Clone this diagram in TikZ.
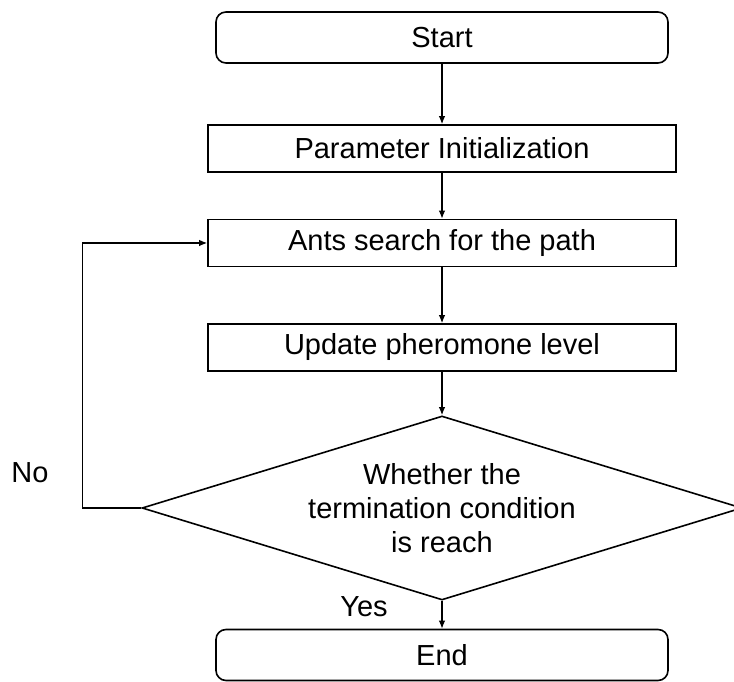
\documentclass[tikz,border=0pt]{standalone}
\usepackage{fontspec}
\setmainfont{Liberation Sans}
\usepackage{tikz}
\usetikzlibrary{arrows.meta}
\usetikzlibrary{shapes.geometric}

\begin{document}
\begin{tikzpicture}[x=1pt, y=1pt, >={Latex[length=8pt,width=6.5pt]}, line width=1.3pt,
  every node/.style={font=\fontsize{29}{34}\selectfont},
  terminal/.style={draw, line width=1.6pt, rounded corners=10pt, minimum width=452pt, minimum height=51pt},
  process/.style={draw, line width=1.6pt, minimum width=468pt, minimum height=47pt},
  decision/.style={draw, line width=1.6pt, diamond, aspect=3.26, inner sep=0pt, minimum width=600pt, minimum height=184pt, align=center}]
  % fix the margins
  \useasboundingbox (0,0) rectangle (734,682);
  \clip (0,0) rectangle (734,682);
  % draw the boxes
  \node[terminal] (start) at (442,644.5) {Start};
  \node[process] (param) at (442,533.5) {Parameter Initialization};
  \node[process] (ants) at (442,439) {Ants search for the path};
  \node[process] (update) at (442,334.5) {Update pheromone level};
  \node[decision] (cond) at (442,174) {Whether the\\termination condition\\is reach};
  \node[terminal] (finish) at (442,27) {End};
  % draw the arrows
  \draw[->] (start) -- (param);
  \draw[->] (param) -- (ants);
  \draw[->] (ants) -- (update);
  \draw[->] (update) -- (cond);
  \draw[->] (cond) -- (finish);
  \draw[->] (cond.west) -- ++(-59,0) |- (ants.west);
  % draw the labels
  \node (no) at (30,209) {No};
  \node (yes) at (364,75) {Yes};
\end{tikzpicture}
\end{document}
